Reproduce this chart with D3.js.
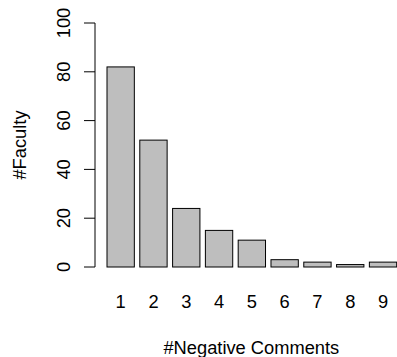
<!DOCTYPE html>
<html>
<head>
<meta charset="utf-8">
<script src="https://cdn.jsdelivr.net/npm/d3@7"></script>
<style>
  body { margin: 0; background: #fff; }
  text { font-family: "Liberation Sans", Arial, sans-serif; fill: #000; }
</style>
</head>
<body>
<div class="grafico"></div>
<script>
const width = 397, height = 357;

// data
const categories = ["1", "2", "3", "4", "5", "6", "7", "8", "9"];
const faculty = [82, 52, 24, 15, 11, 3, 2, 1, 2];
const yTicks = [0, 20, 40, 60, 80, 100];

const fontSize = 18.3;

const svg = d3.select(".grafico")
    .append("svg")
    .attr("width", width)
    .attr("height", height);

const x = d3.scaleBand()
    .domain(categories)
    .range([107, 396.7])
    .paddingInner(1 / 6)
    .paddingOuter(0);

const y = d3.scaleLinear()
    .domain([0, 100])
    .range([267, 23]);

// bars
svg.selectAll("rect.bar")
    .data(faculty)
    .enter().append("rect")
    .attr("class", "bar")
    .attr("x", (d, i) => x(categories[i]))
    .attr("y", d => y(d))
    .attr("width", x.bandwidth())
    .attr("height", d => y(0) - y(d))
    .attr("fill", "#bebebe")
    .attr("stroke", "#000")
    .attr("stroke-width", 1);

// y axis, R style: vertical labels
const yAxis = svg.append("g");
yAxis.append("line")
    .attr("x1", 95).attr("x2", 95)
    .attr("y1", y(0)).attr("y2", y(100))
    .attr("stroke", "#000");
yAxis.selectAll("line.tick")
    .data(yTicks)
    .enter().append("line")
    .attr("class", "tick")
    .attr("x1", 84).attr("x2", 95)
    .attr("y1", d => y(d)).attr("y2", d => y(d))
    .attr("stroke", "#000");
yAxis.selectAll("text")
    .data(yTicks)
    .enter().append("text")
    .attr("transform", d => `translate(70, ${y(d)}) rotate(-90)`)
    .attr("text-anchor", "middle")
    .attr("font-size", fontSize)
    .text(d => d);

// category labels under the bars
svg.selectAll("text.cat")
    .data(categories)
    .enter().append("text")
    .attr("class", "cat")
    .attr("x", d => x(d) + x.bandwidth() / 2)
    .attr("y", 307.5)
    .attr("text-anchor", "middle")
    .attr("font-size", fontSize)
    .text(d => d);

// titles
svg.append("text")
    .attr("x", (x.range()[0] + x.range()[1]) / 2 - 0.5)
    .attr("y", 354)
    .attr("text-anchor", "middle")
    .attr("font-size", fontSize)
    .text("#Negative Comments");

svg.append("text")
    .attr("transform", "translate(26, 145) rotate(-90)")
    .attr("text-anchor", "middle")
    .attr("font-size", fontSize)
    .text("#Faculty");
</script>
</body>
</html>
